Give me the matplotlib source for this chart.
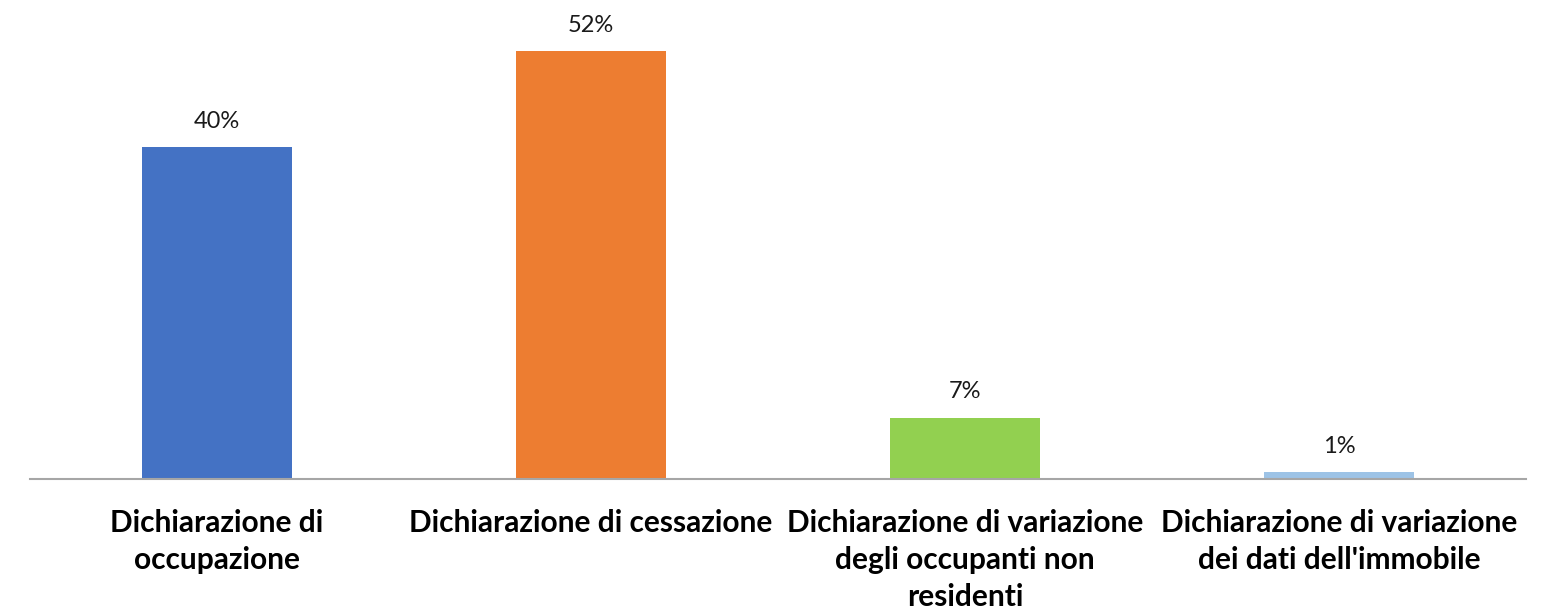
import numpy as np
import matplotlib.pyplot as plt

## Data
categories = ["Dichiarazione di\noccupazione",
              "Dichiarazione di cessazione",
              "Dichiarazione di variazione\ndegli occupanti non\nresidenti",
              "Dichiarazione di variazione\ndei dati dell'immobile"]
values = [40.3, 52.0, 7.4, 0.8] # percent
labels = ["40%", "52%", "7%", "1%"]
colors = ["#4472C4", "#ED7D31", "#92D050", "#9DC3E6"]

plt.rcParams['font.family'] = ['Lato', 'DejaVu Sans']

## Figure
fig = plt.figure(figsize=(15.56, 6.11), dpi=100)
ax = fig.add_axes([30/1556, (611-478.5)/611, 1496/1556, 468.5/611])

x = np.arange(len(categories))
bars = ax.bar(x, values, width=0.4, color=colors)

for b, lab in zip(bars, labels):
    ax.annotate(lab, (b.get_x() + b.get_width()/2, b.get_height()),
                xytext=(0, 11), textcoords="offset points",
                ha="center", va="bottom", fontsize=17, color="#1a1a1a")

ax.set_xlim(-0.5, 3.5)
ax.set_ylim(0, 57)
ax.set_xticks(x)
ax.set_xticklabels(categories, fontsize=21.5, fontweight="bold", linespacing=1.4)
ax.tick_params(axis="x", length=0, pad=22)
ax.set_yticks([])
for s in ["top", "left", "right"]:
    ax.spines[s].set_visible(False)
ax.spines["bottom"].set_color("#a6a6a6")
ax.spines["bottom"].set_linewidth(1.5)

fig.savefig("out.png", dpi=100)
